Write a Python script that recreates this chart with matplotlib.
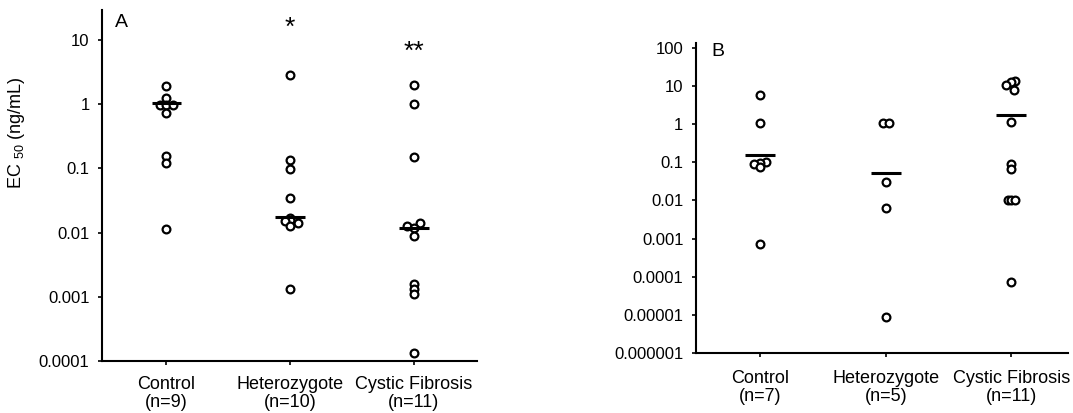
import matplotlib
matplotlib.use('Agg')
import matplotlib.pyplot as plt
from matplotlib.ticker import FixedLocator, NullLocator

plt.rcParams['font.family'] = ['Liberation Sans', 'DejaVu Sans']
plt.rcParams['mathtext.fontset'] = 'custom'
plt.rcParams['mathtext.rm'] = 'Liberation Sans'

# ---- data ----
groups_a = ["Control\n(n=9)", "Heterozygote\n(n=10)", "Cystic Fibrosis\n(n=11)"]
groups_b = ["Control\n(n=7)", "Heterozygote\n(n=5)", "Cystic Fibrosis\n(n=11)"]

ctrl_a = [1.9, 1.27, 0.96, 0.96, 0.96, 0.73, 0.154, 0.123, 0.0115]
het_a = [2.9, 0.137, 0.097, 0.034, 0.017, 0.0155, 0.0149, 0.0143, 0.0126, 0.00133]
cf_a = [1.98, 1.0, 0.15, 0.014, 0.0129, 0.0117, 0.0089, 0.00158, 0.00133, 0.00112, 0.000135]
median_a = [1.05, 0.0175, 0.0117]
stars_a = ["", "*", "**"]
star_y_a = [None, 15.5, 6.6]

ctrl_b = [5.7, 1.08, 0.1, 0.095, 0.091, 0.077, 0.00074]
het_b = [1.1, 1.1, 0.031, 0.0065, 0.0000089]
cf_b = [13.2, 12.7, 10.4, 8.05, 1.15, 0.089, 0.066, 0.0104, 0.0104, 0.0104, 0.0000722]
median_b = [0.16, 0.051, 1.79]

ticks_a = [10, 1, 0.1, 0.01, 0.001, 0.0001]
tick_labels_a = ["10", "1", "0.1", "0.01", "0.001", "0.0001"]
ticks_b = [100, 10, 1, 0.1, 0.01, 0.001, 0.0001, 0.00001, 0.000001]
tick_labels_b = ["100", "10", "1", "0.1", "0.01", "0.001", "0.0001", "0.00001", "0.000001"]

# horizontal dodge of overlapping circles (x data units)
dodge_ctrl_a = [0, 0, -0.05, 0, 0.05, 0, 0, 0, 0]
dodge_het_a = [0, 0, 0, 0, 0, 0, -0.04, 0.06, 0, 0]
dodge_cf_a = [0, 0, 0, 0.05, -0.055, 0, 0, 0, 0, 0, 0]
dodge_ctrl_b = [0, 0, 0.05, 0, -0.05, 0, 0]
dodge_het_b = [-0.025, 0.025, 0, 0, 0]
dodge_cf_b = [0.03, 0, -0.04, 0.02, 0, 0, 0, -0.025, 0, 0.025, 0]


def draw_panel(ax, series, dodges, medians, ticks, tick_labels, cats, ylim, xlim, xpad):
    for i, (vals, dx) in enumerate(zip(series, dodges)):
        xs = [i + 1 + d for d in dx]
        ax.plot(xs, vals, linestyle='none', marker='o', markersize=5.6,
                markerfacecolor='white', markeredgecolor='black', markeredgewidth=1.6)
        ax.plot([i + 1 - 0.12, i + 1 + 0.12], [medians[i], medians[i]],
                color='black', linewidth=2.2, solid_capstyle='butt')
    ax.set_yscale('log')
    ax.set_ylim(*ylim)
    ax.set_xlim(*xlim)
    ax.yaxis.set_major_locator(FixedLocator(ticks))
    ax.yaxis.set_minor_locator(NullLocator())
    ax.set_yticklabels(tick_labels)
    ax.set_xticks([1, 2, 3])
    ax.set_xticklabels(cats, fontsize=13, linespacing=1.1)
    ax.tick_params(axis='y', labelsize=12, length=3, width=1.2, pad=6)
    ax.tick_params(axis='x', length=3, width=1.2, pad=xpad)
    for s in ['top', 'right']:
        ax.spines[s].set_visible(False)
    for s in ['left', 'bottom']:
        ax.spines[s].set_linewidth(1.5)


fig = plt.figure(figsize=(10.73, 4.13), dpi=100)
ax_a = fig.add_axes([0.0951, 0.1259, 0.3495, 0.85])
ax_b = fig.add_axes([0.6486, 0.1453, 0.3467, 0.7506])

draw_panel(ax_a, [ctrl_a, het_a, cf_a], [dodge_ctrl_a, dodge_het_a, dodge_cf_a],
           median_a, ticks_a, tick_labels_a, groups_a, (1e-4, 29.4), (0.48, 3.51), 7.5)
draw_panel(ax_b, [ctrl_b, het_b, cf_b], [dodge_ctrl_b, dodge_het_b, dodge_cf_b],
           median_b, ticks_b, tick_labels_b, groups_b, (1e-6, 135), (0.49, 3.45), 9)

for i, s in enumerate(stars_a):
    if s:
        ax_a.text(i + 1, star_y_a[i], s, ha='center', va='center', fontsize=19)

ax_a.set_ylabel("EC $_{\\mathregular{50}}$ (ng/mL)", fontsize=13)
ax_a.yaxis.set_label_coords(-0.2, 0.65)
ax_a.text(0.053, 0.963, "A", transform=ax_a.transAxes, ha='center', va='center', fontsize=14)
ax_b.text(0.059, 0.971, "B", transform=ax_b.transAxes, ha='center', va='center', fontsize=14)

fig.savefig("out.png", dpi=100, facecolor='white')
